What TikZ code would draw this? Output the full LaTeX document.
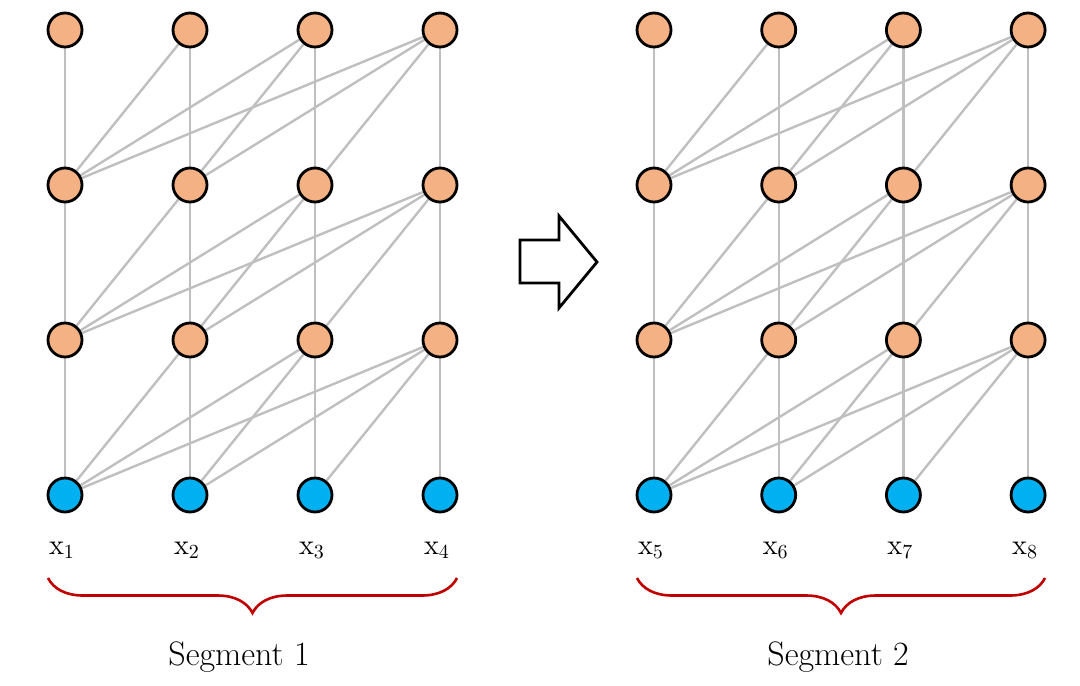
\documentclass[tikz,border=0pt]{standalone}
\usetikzlibrary{decorations.pathreplacing,backgrounds}
\definecolor{tokenorange}{RGB}{244,177,131}
\definecolor{tokenblue}{RGB}{0,176,240}
\definecolor{bracered}{RGB}{192,0,0}

\begin{document}
\begin{tikzpicture}[x=0.5pt,y=-0.5pt,
    hidden/.style={circle,draw=black,line width=1.4pt,fill=tokenorange,minimum size=17pt,inner sep=0pt},
    token/.style={hidden,fill=tokenblue},
    link/.style={draw=gray!50,line width=1.2pt},
    segbrace/.style={draw=bracered,line width=1.3pt,decorate,decoration={brace,mirror,amplitude=17.5pt}},
    xlbl/.style={anchor=base,font=\fontsize{14.5}{17}\selectfont},
    seglbl/.style={font=\fontsize{17}{20}\selectfont}]
    \useasboundingbox (0,0) rectangle (1080,685);

    % Segments 1 and 2
    \foreach \s/\xs/\dx in {1/65/125,2/654/124.7} {
        \foreach \r/\y/\sty in {1/495/token,2/340/hidden,3/185/hidden,4/30/hidden} {
            \foreach \c in {1,...,4} {
                \node[\sty] (n-\s-\r-\c) at (\xs+\dx*\c-\dx,\y) {};
            }
        }
        \foreach \c in {1,...,4} {
            \pgfmathtruncatemacro\idx{(\s-1)*4+\c}
            \node[xlbl] (x-\idx) at (\xs+\dx*\c-\dx-3,554) {$\mathrm{x}_{\idx}$};
        }
        % links to the layer above
        \begin{scope}[on background layer]
            \foreach \r in {1,2,3} {
                \pgfmathtruncatemacro\rr{\r+1}
                \foreach \c in {1,...,4} {
                    \foreach \k in {1,...,\c} {
                        \draw[link] (n-\s-\r-\k) -- (n-\s-\rr-\c);
                    }
                }
            }
        \end{scope}
    }

    % braces
    \draw[segbrace] (48,578) -- (457,578);
    \draw[segbrace] (637,578) -- (1045,578);
    \node[seglbl] (seg-1) at (239,657) {Segment 1};
    \node[seglbl] (seg-2) at (838,657) {Segment 2};

    % arrow
    \draw[line width=1.4pt,line join=miter] (520,240) -- (559,240) -- (559,216) -- (597,262)
        -- (559,308) -- (559,283) -- (520,283) -- cycle;
\end{tikzpicture}
\end{document}
